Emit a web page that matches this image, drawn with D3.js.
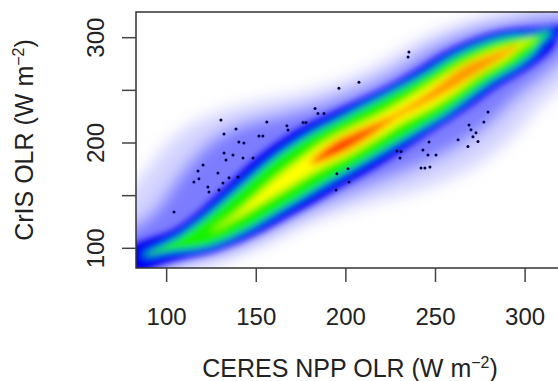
<!DOCTYPE html>
<html>
<head>
<meta charset="utf-8">
<script src="https://cdn.jsdelivr.net/npm/d3@7"></script>
<style>
  body { margin: 0; background: #fff; }
  text { font-family: "Liberation Sans", Arial, Helvetica, sans-serif; fill: #222; }
</style>
</head>
<body>
<script>
var width = 558,
    height = 381;

// band, in rotated coords: along = (x+y)/2, offsets in d = y-x
var along  = [70, 80, 90, 100, 110, 120, 135, 150, 165, 180, 195, 210, 225, 240, 255, 270, 285, 295, 303, 310, 316, 322, 330];
var ridge  = [14, 10,  6,   0,  -7,  -9,  -8,  -5,  -2,   0,   0,  -1,  -2,  -3,  -2,   0,  -2,  -4,  -7,  -9, -11, -13, -15];

var paleUp    = [48, 52, 58, 66, 76, 86, 96, 104, 106, 100, 88, 74, 64, 60, 58, 56, 53, 49, 45, 40, 35, 28, 12];
var paleDown  = [34, 34, 34, 34, 35, 38, 44, 50, 60, 72, 84, 90, 92, 88, 82, 74, 66, 60, 54, 47, 40, 32, 12];
var midUp     = [28, 30, 34, 40, 48, 56, 68, 76, 80, 76, 64, 54, 48, 45, 44, 43, 40, 36, 31, 26, 20, 12, 0];
var midDown   = [24, 24, 24, 25, 27, 30, 34, 39, 45, 52, 58, 62, 64, 62, 58, 52, 46, 40, 34, 28, 22, 14, 0];
var blueHalf  = [17, 18, 18, 19, 21, 24, 29, 33, 37, 39, 40, 38, 35, 33, 32, 31, 29, 25, 18, 8, 0, 0, 0];
var greenHalf = [0, 0, 0, 5, 11, 15, 19, 22, 25, 27, 28, 27, 26, 25, 23, 22, 20, 15, 6, 0, 0, 0, 0];
var yellowHalf= [0, 0, 0, 0, 0, 0, 2, 5, 8, 10, 13, 12, 10, 11, 11, 10, 8, 3, 0, 0, 0, 0, 0];
var orangeHalf= [0, 0, 0, 0, 0, 0, 0, 0, 0, 0, 8, 7, 3, 4, 6, 7, 4, 0, 0, 0, 0, 0, 0];
var redHalf   = [0, 0, 0, 0, 0, 0, 0, 0, 0, 0, 5, 3, 0, 0, 0, 0, 0, 0, 0, 0, 0, 0, 0];

// lone points outside the dense core
var dotsX = [130.3, 138.7, 132.0, 155.9, 151.5, 153.7, 140.3, 143.1, 132.0, 137.0, 133.1, 142.6, 148.2, 120.3, 117.5,
             128.6, 134.8, 139.8, 118.0, 115.2, 123.0, 123.6, 131.4, 129.2, 104.1, 167.1, 176.1, 182.8, 184.4, 230.2,
             243.0, 244.1, 246.9, 195.0, 201.2, 228.5, 234.7, 235.2, 207.3, 196.1, 167.7, 177.7, 187.8, 279.3, 277.0,
             268.7, 269.8, 272.6, 270.9, 262.6, 268.1, 273.7, 230.8, 201.7, 194.5, 246.4, 250.3, 241.9, 245.8];
var dotsY = [221.8, 213.3, 208.5, 219.9, 206.6, 206.6, 200.9, 200.0, 190.5, 188.6, 183.8, 185.7, 185.7, 179.2, 173.5,
             171.6, 166.9, 167.8, 166.0, 162.9, 158.1, 153.5, 162.0, 155.4, 134.5, 216.5, 219.4, 232.7, 227.9, 185.8,
             193.4, 176.3, 177.2, 170.8, 175.5, 192.4, 281.6, 286.4, 257.6, 251.9, 212.3, 219.4, 228.0, 229.5, 220.0,
             217.2, 212.5, 209.7, 206.0, 203.2, 196.6, 201.4, 192.0, 162.9, 155.4, 201.0, 188.6, 176.3, 188.6];

var xTicks = [100, 150, 200, 250, 300];
var yTicks = [100, 150, 200, 250, 300];
var yLabels = [100, 200, 300];

var x = d3.scaleLinear().domain([82.9, 321.7]).range([136, 564]);
var y = d3.scaleLinear().domain([81.3, 324.4]).range([268, 12]);

var svg = d3.select("body").append("svg")
    .attr("width", width)
    .attr("height", height);

var defs = svg.append("defs");
defs.append("clipPath").attr("id", "plot")
  .append("rect").attr("x", 136).attr("y", 12).attr("width", 428).attr("height", 256);
defs.append("filter").attr("id", "soft").attr("x", "-20%").attr("y", "-20%").attr("width", "140%").attr("height", "140%")
  .append("feGaussianBlur").attr("stdDeviation", 8);
defs.append("filter").attr("id", "core").attr("x", "-20%").attr("y", "-20%").attr("width", "140%").attr("height", "140%")
  .append("feGaussianBlur").attr("stdDeviation", 3.5);

function toXY(s, d) { return [x(s - d / 2), y(s + d / 2)]; }

function outline(up, down) {
  var idx = d3.range(along.length).filter(function(i) { return up[i] > 0 || down[i] > 0; });
  var lo = Math.max(idx[0] - 1, 0),
      hi = Math.min(idx[idx.length - 1] + 1, along.length - 1);
  var pts = [];
  for (var i = lo; i <= hi; i++) pts.push(toXY(along[i], ridge[i] + up[i]));
  for (var j = hi; j >= lo; j--) {
    if (up[j] > 0 || down[j] > 0) pts.push(toXY(along[j], ridge[j] - down[j]));
  }
  return pts;
}

var shape = d3.line().curve(d3.curveCatmullRomClosed.alpha(0.5));

var plot = svg.append("g").attr("clip-path", "url(#plot)");

var halo = plot.append("g").attr("filter", "url(#soft)");
halo.append("path").attr("d", shape(outline(paleUp, paleDown))).attr("fill", "#d4d4ff");
halo.append("path").attr("d", shape(outline(midUp, midDown))).attr("fill", "#7c7cff");

var core = plot.append("g").attr("filter", "url(#core)");
[[blueHalf, "#0000f0"], [greenHalf, "#14f200"], [yellowHalf, "#ffff00"],
 [orangeHalf, "#ff9400"], [redHalf, "#ff1e00"]].forEach(function(l) {
  core.append("path").attr("d", shape(outline(l[0], l[0]))).attr("fill", l[1]);
});

plot.selectAll("circle.dot")
    .data(dotsX)
  .enter().append("circle")
    .attr("class", "dot")
    .attr("cx", function(d) { return x(d); })
    .attr("cy", function(d, i) { return y(dotsY[i]); })
    .attr("r", 1.5)
    .style("fill", "#00004a");

// frame and axes
svg.append("rect")
    .attr("x", 136).attr("y", 12).attr("width", 428).attr("height", 256)
    .attr("fill", "none").attr("stroke", "#333").attr("stroke-width", 1.5);

svg.selectAll("line.xt")
    .data(xTicks)
  .enter().append("line")
    .attr("x1", function(d) { return x(d); }).attr("x2", function(d) { return x(d); })
    .attr("y1", 268).attr("y2", 282)
    .attr("stroke", "#444").attr("stroke-width", 1.5);

svg.selectAll("text.xt")
    .data(xTicks)
  .enter().append("text")
    .attr("x", function(d) { return x(d); })
    .attr("y", 325)
    .attr("text-anchor", "middle")
    .style("font-size", "24px")
    .text(function(d) { return d; });

svg.selectAll("line.yt")
    .data(yTicks)
  .enter().append("line")
    .attr("x1", 136).attr("x2", 122)
    .attr("y1", function(d) { return y(d); }).attr("y2", function(d) { return y(d); })
    .attr("stroke", "#444").attr("stroke-width", 1.5);

svg.selectAll("text.yt")
    .data(yLabels)
  .enter().append("text")
    .attr("transform", function(d) { return "translate(104," + y(d) + ") rotate(-90)"; })
    .attr("text-anchor", "middle")
    .style("font-size", "24px")
    .text(function(d) { return d; });

function unitTitle(g, label) {
  var t = g.append("text").attr("text-anchor", "middle").style("font-size", "25px");
  t.append("tspan").text(label + " (W m");
  t.append("tspan").attr("dy", -9).style("font-size", "16px").text("\u22122");
  t.append("tspan").attr("dy", 9).text(")");
}

unitTitle(svg.append("g").attr("transform", "translate(350,377)"), "CERES NPP OLR");
unitTitle(svg.append("g").attr("transform", "translate(33,140) rotate(-90)"), "CrIS OLR");
</script>
</body>
</html>
